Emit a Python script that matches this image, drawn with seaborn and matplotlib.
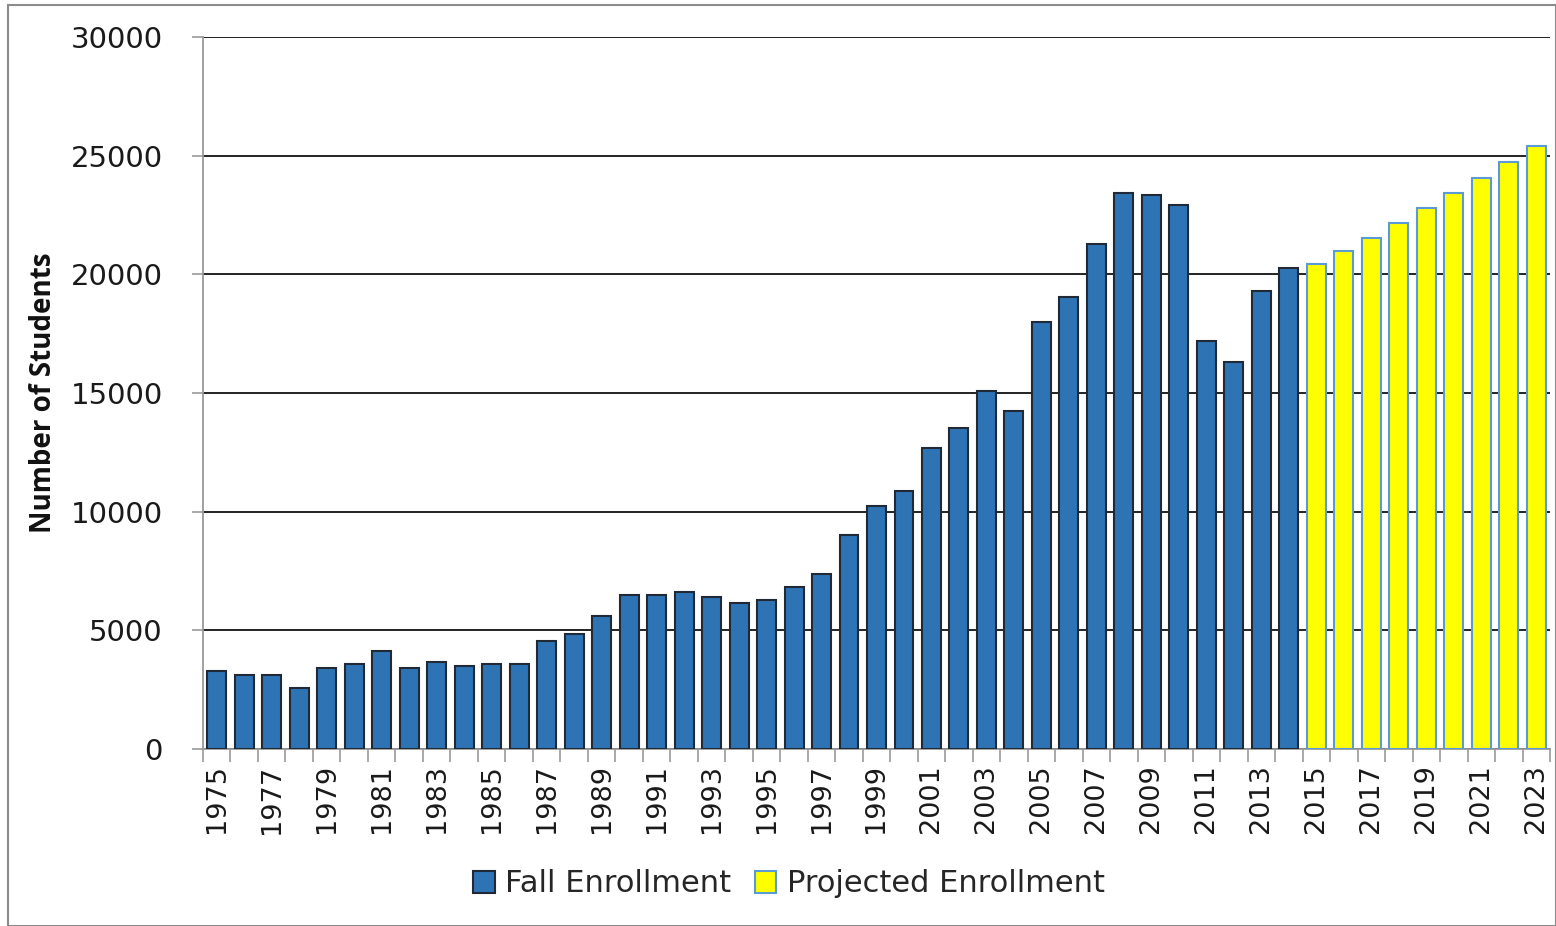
import numpy as np
import pandas as pd
import matplotlib
matplotlib.use("Agg")
import matplotlib.pyplot as plt
import seaborn as sns
from matplotlib.patches import Patch, Rectangle

years = list(range(1975, 2024))
fall_enrollment = [3300, 3100, 3100, 2550, 3400, 3600, 4150, 3400, 3650, 3500,
                   3580, 3580, 4550, 4840, 5600, 6490, 6490, 6610, 6400, 6150,
                   6280, 6820, 7370, 9010, 10240, 10870, 12680, 13520, 15080, 14240,
                   17990, 19040, 21270, 23420, 23340, 22920, 17190, 16300, 19290, 20260]
projected_enrollment = [20430, 20980, 21520, 22160, 22790, 23420, 24050, 24730, 25400]
series_names = ["Fall Enrollment", "Projected Enrollment"]

df = pd.DataFrame({
    "year": [str(y) for y in years],
    "value": fall_enrollment + projected_enrollment,
    "type": [series_names[0]] * len(fall_enrollment) + [series_names[1]] * len(projected_enrollment),
})

sns.set_theme(style="white")
plt.rcParams["font.family"] = ["DejaVu Sans"]

fig = plt.figure(figsize=(15.56, 9.26), dpi=100)
ax = fig.add_axes([203 / 1556, 1 - 749 / 926, (1550 - 203) / 1556, (749 - 37) / 926])

colors = {series_names[0]: "#2E74B5", series_names[1]: "#FFFF00"}
edges = {series_names[0]: "#1f2a36", series_names[1]: "#5b9bd5"}
sns.barplot(data=df, x="year", y="value", hue="type", dodge=False, palette=colors,
            width=0.69, ax=ax, legend=False, saturation=1)

for p in ax.patches:
    fc = p.get_facecolor()
    if fc[2] < 0.5:  # yellow
        p.set_edgecolor(edges[series_names[1]])
    else:
        p.set_edgecolor(edges[series_names[0]])
    p.set_linewidth(1.5)
    p.set_zorder(3)

ax.set_xlim(-0.5, len(years) - 0.5)
ax.set_ylim(0, 30000)
ax.set_yticks(np.arange(0, 30001, 5000))
ax.yaxis.grid(True, color="#222222", linewidth=1.4, zorder=0)
ax.set_axisbelow(True)
ax.xaxis.grid(False)

ax.set_xticks(range(0, len(years), 2))
ax.set_xticklabels([str(y) for y in years[::2]], rotation=90, fontsize=19.5, color="#1a1a1a",
                   family="DejaVu Sans")
ax.set_xticks(np.arange(-0.5, len(years), 1.0), minor=True)
ax.tick_params(axis="x", which="major", length=0, pad=11)
ax.tick_params(axis="x", which="minor", length=9, width=1.2, color="#9a9a9a", bottom=True)
ax.tick_params(axis="y", which="major", length=8, width=1.2, color="#9a9a9a", left=True,
               labelsize=21, labelcolor="#1a1a1a", pad=21)
for lbl in ax.get_yticklabels():
    lbl.set_family("DejaVu Sans")

for s in ["top", "right"]:
    ax.spines[s].set_visible(False)
for s in ["left", "bottom"]:
    ax.spines[s].set_color("#9a9a9a")
    ax.spines[s].set_linewidth(1.3)

ax.set_xlabel("")
ax.set_ylabel("Number of Students", fontsize=20, fontweight="bold", family=["Open Sans", "DejaVu Sans"],
              color="#111111")
ax.yaxis.set_label_coords(-0.108, 0.5)

handles = [Patch(facecolor=colors[n], edgecolor=edges[n], linewidth=1.5) for n in series_names]
fig.legend(handles, series_names, loc="center", bbox_to_anchor=(789 / 1556, 1 - 884 / 926),
           ncol=2, frameon=False, prop={"family": ["DejaVu Sans"], "size": 22},
           handlelength=0.7, handleheight=0.7, handletextpad=0.35, columnspacing=0.75)

fig.patches.append(Rectangle((8 / 1556, 0), 1 - 8 / 1556, 1 - 5 / 926, transform=fig.transFigure,
                             fill=False, edgecolor="#8c8c8c", linewidth=1.5, zorder=-1))

fig.savefig("out.png", dpi=100)
